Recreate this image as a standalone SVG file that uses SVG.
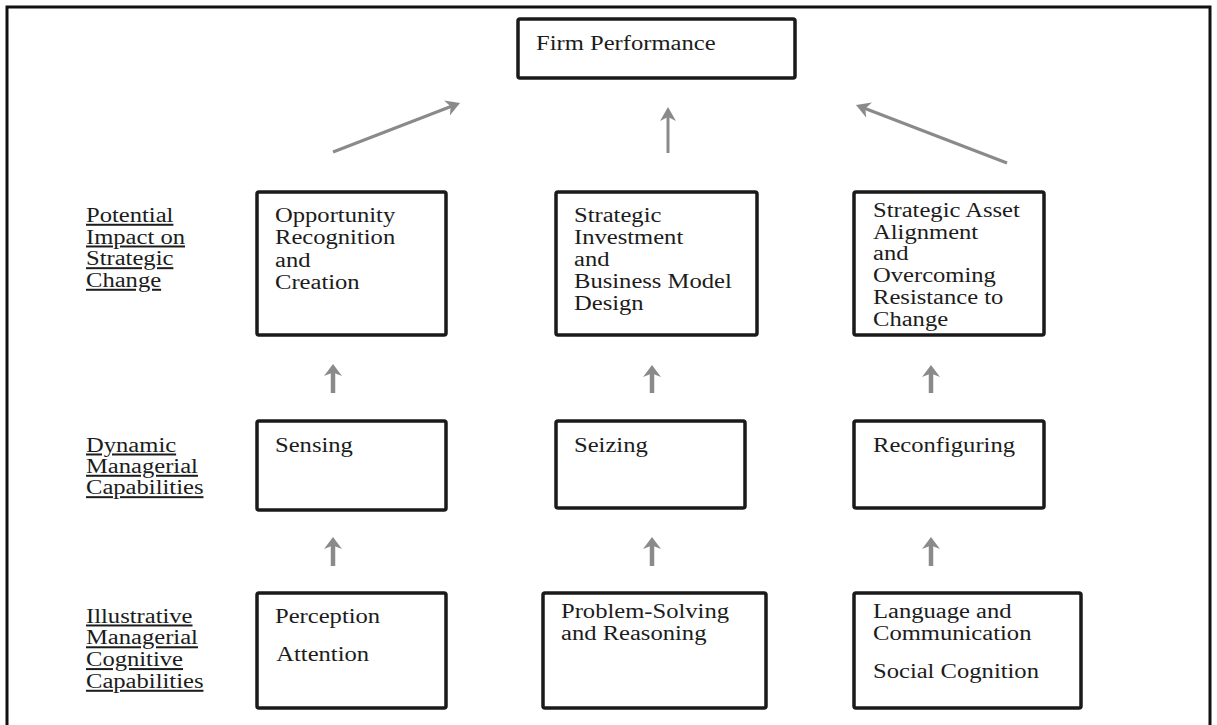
<svg xmlns="http://www.w3.org/2000/svg" width="1217" height="725" viewBox="0 0 1217 725">
<style>
  .frame { fill: none; stroke: #111; stroke-width: 3; }
  .box { fill: #fff; stroke: #1a1a1a; stroke-width: 3.5; }
  .t { font-family: "Liberation Serif", "Times New Roman", serif; font-size: 20px; fill: #1c1c1c; }
  .lab { text-decoration: underline; }
  .sa { stroke: #8a8a8a; stroke-width: 4.5; fill: none; }
  .la { stroke: #8a8a8a; stroke-width: 3; fill: none; }
</style>
<defs>
  <marker id="ah" viewBox="0 0 16 18" refX="8" refY="9" markerWidth="16" markerHeight="18" markerUnits="userSpaceOnUse" orient="auto">
    <path d="M14,9 L2,0 L5.5,9 L2,18 Z" fill="#8a8a8a"/>
  </marker>
  <marker id="ah2" viewBox="0 0 18 18" refX="9" refY="9" markerWidth="18" markerHeight="18" markerUnits="userSpaceOnUse" orient="auto">
    <path d="M16,9 L2,1 L6,9 L2,17 Z" fill="#8a8a8a"/>
  </marker>
</defs>
<rect width="1217" height="725" fill="#fff"/>
<rect class="frame" x="7" y="7" width="1203" height="725"/>

<g id="labels">
  <text class="t lab" transform="translate(86,0) scale(1.23,1)"><tspan x="0" y="222">Potential</tspan><tspan x="0" y="243.7">Impact on</tspan><tspan x="0" y="265.4">Strategic</tspan><tspan x="0" y="287">Change</tspan></text>
  <text class="t lab" transform="translate(86,0) scale(1.23,1)"><tspan x="0" y="451.7">Dynamic</tspan><tspan x="0" y="473">Managerial</tspan><tspan x="0" y="494.4">Capabilities</tspan></text>
  <text class="t lab" transform="translate(86,0) scale(1.23,1)"><tspan x="0" y="622.7">Illustrative</tspan><tspan x="0" y="644.5">Managerial</tspan><tspan x="0" y="666.3">Cognitive</tspan><tspan x="0" y="688">Capabilities</tspan></text>
</g>

<g id="connectors">
  <line class="la" x1="333" y1="152" x2="453.5" y2="105.5" marker-end="url(#ah2)"/>
  <line class="la" x1="668" y1="153" x2="668" y2="114" marker-end="url(#ah2)"/>
  <line class="la" x1="1007" y1="163" x2="862.5" y2="107.5" marker-end="url(#ah2)"/>
  <line class="sa" x1="333" y1="393" x2="333" y2="370" marker-end="url(#ah)"/>
  <line class="sa" x1="652" y1="393" x2="652" y2="371" marker-end="url(#ah)"/>
  <line class="sa" x1="931" y1="393" x2="931" y2="371" marker-end="url(#ah)"/>
  <line class="sa" x1="333" y1="566" x2="333" y2="543" marker-end="url(#ah)"/>
  <line class="sa" x1="652" y1="566" x2="652" y2="543" marker-end="url(#ah)"/>
  <line class="sa" x1="931" y1="566" x2="931" y2="543" marker-end="url(#ah)"/>
</g>

<g id="firm-performance">
  <rect class="box" x="518" y="19" width="277" height="59" rx="2"/>
  <text class="t" transform="translate(536,50) scale(1.23,1)">Firm Performance</text>
</g>

<g id="opportunity">
  <rect class="box" x="257" y="192" width="189" height="143" rx="2"/>
  <text class="t" transform="translate(275,0) scale(1.23,1)"><tspan x="0" y="222">Opportunity</tspan><tspan x="0" y="244.3">Recognition</tspan><tspan x="0" y="266.6">and</tspan><tspan x="0" y="289">Creation</tspan></text>
</g>

<g id="strategic-investment">
  <rect class="box" x="556" y="192" width="201" height="143" rx="2"/>
  <text class="t" transform="translate(574,0) scale(1.23,1)"><tspan x="0" y="222">Strategic</tspan><tspan x="0" y="244">Investment</tspan><tspan x="0" y="266">and</tspan><tspan x="0" y="288.5">Business Model</tspan><tspan x="0" y="310.5">Design</tspan></text>
</g>

<g id="strategic-asset">
  <rect class="box" x="854" y="192" width="190" height="143" rx="2"/>
  <text class="t" transform="translate(873,0) scale(1.23,1)"><tspan x="0" y="217">Strategic Asset</tspan><tspan x="0" y="239">Alignment</tspan><tspan x="0" y="260.5">and</tspan><tspan x="0" y="282.5">Overcoming</tspan><tspan x="0" y="304">Resistance to</tspan><tspan x="0" y="326">Change</tspan></text>
</g>

<g id="sensing">
  <rect class="box" x="257" y="421" width="189" height="89" rx="2"/>
  <text class="t" transform="translate(275,452) scale(1.23,1)">Sensing</text>
</g>

<g id="seizing">
  <rect class="box" x="556" y="421" width="189" height="87" rx="2"/>
  <text class="t" transform="translate(574,452) scale(1.23,1)">Seizing</text>
</g>

<g id="reconfiguring">
  <rect class="box" x="854" y="421" width="190" height="87" rx="2"/>
  <text class="t" transform="translate(873,452) scale(1.23,1)">Reconfiguring</text>
</g>

<g id="perception">
  <rect class="box" x="257" y="593" width="189" height="115" rx="2"/>
  <text class="t" transform="translate(275,0) scale(1.23,1)"><tspan x="0" y="623">Perception</tspan><tspan x="1" y="661.5">Attention</tspan></text>
</g>

<g id="problem-solving">
  <rect class="box" x="543" y="593" width="223" height="115" rx="2"/>
  <text class="t" transform="translate(561,0) scale(1.23,1)"><tspan x="0" y="618">Problem-Solving</tspan><tspan x="0" y="640">and Reasoning</tspan></text>
</g>

<g id="language">
  <rect class="box" x="854" y="593" width="227" height="115" rx="2"/>
  <text class="t" transform="translate(873,0) scale(1.23,1)"><tspan x="0" y="618">Language and</tspan><tspan x="0" y="640.5">Communication</tspan><tspan x="0" y="678">Social Cognition</tspan></text>
</g>
</svg>
